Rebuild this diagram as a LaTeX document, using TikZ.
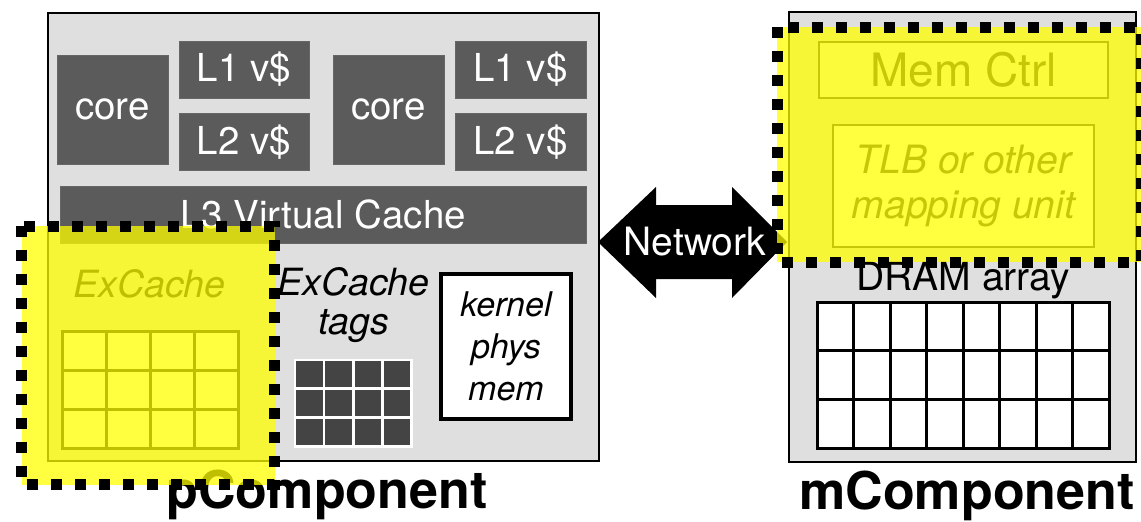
\documentclass[tikz,border=0pt]{standalone}
\usepackage{fontspec}
\setmainfont{TeX Gyre Heros}
\usetikzlibrary{positioning}
\definecolor{chipgray}{HTML}{DFDFDF}
\definecolor{blockgray}{HTML}{5B5B5B}
\definecolor{taggray}{HTML}{444444}
\definecolor{hilite}{HTML}{FFFF00}
\definecolor{softink}{HTML}{202020}

\begin{document}
\begin{tikzpicture}[x=1pt,y=-1pt,
  chip/.style={draw,line width=2pt,fill=chipgray,inner sep=0pt},
  block/.style={fill=blockgray,draw=gray!80!black,line width=0.5pt,text=white,inner sep=0pt,
    font=\fontsize{38.5}{42}\selectfont},
  cell/.style={draw,line width=3pt,fill=white},
  lbl/.style={inner sep=0pt,font=\fontsize{39}{42}\selectfont},
  itlbl/.style={inner sep=0pt,font=\fontsize{37.5}{40}\selectfont\itshape},
  hl/.style={fill=hilite,fill opacity=0.75},
  hlborder/.style={draw,line width=11pt,dash pattern=on 11pt off 13pt},
  title/.style={inner sep=0pt,anchor=base,font=\fontsize{52}{56}\selectfont\bfseries}
]
\useasboundingbox (0,0) rectangle (1141,522);

% pComponent
\node[chip,minimum width=551pt,minimum height=448pt] (pchip) at (323.5,237) {};
\node[block,minimum width=111pt,minimum height=109pt] (core1) at (112.5,109.5) {core};
\node[block,minimum width=130pt,minimum height=57pt] (l1a) at (244,69.5) {L1 v\$};
\node[block,minimum width=130pt,minimum height=57pt,below=15pt of l1a] (l2a) {L2 v\$};
\node[block,minimum width=111pt,minimum height=109pt] (core2) at (388.5,109.5) {core};
\node[block,minimum width=131pt,minimum height=57pt] (l1b) at (520.5,69.5) {L1 v\$};
\node[block,minimum width=131pt,minimum height=57pt,below=15pt of l1b] (l2b) {L2 v\$};
\node[block,minimum width=526pt,minimum height=57pt] (l3) at (323,214.5) {L3 Virtual Cache};

% ExCache
\node[itlbl,anchor=base] (exc) at (149.5,297) {ExCache};
\foreach \c in {0,...,3}
  \foreach \r in {0,...,2}
    \draw[cell] ({62+44*\c},{331+39*\r}) rectangle +(44,39);

% tags
\node[itlbl,anchor=base] (tagsa) at (353.5,295) {ExCache};
\node[itlbl,anchor=base] (tagsb) at (353.5,334) {tags};
\fill[white] (294,359) rectangle (413,448);
\foreach \c in {0,...,3}
  \foreach \r in {0,...,2}
    \fill[taggray] ({296+29.25*\c},{361+29*\r}) rectangle +(26.5,26);

\node[draw,line width=4pt,fill=white,minimum width=130pt,minimum height=145pt,inner sep=0pt,
  align=center,font=\fontsize{34}{42}\selectfont\itshape] (kmem) at (506,346.5) {kernel\\phys\\mem};

% network
\fill[black] (598,242) -- (656,187) -- (656,205) -- (732,205) -- (732,187) -- (787,242)
  -- (732,298) -- (732,279) -- (656,279) -- (656,298) -- cycle;
\node[lbl,text=white] (net) at (695,242) {Network};

% mComponent
\node[chip,minimum width=347pt,minimum height=450pt] (mchip) at (962.5,237) {};
\node[draw=softink,line width=2pt,fill=chipgray!40,text=softink,minimum width=289pt,minimum height=56pt,
  inner sep=0pt,font=\fontsize{46}{48}\selectfont] (memctrl) at (963.5,70) {Mem Ctrl};
\node[draw=softink,line width=2pt,fill=white,text=softink,minimum width=261pt,minimum height=122pt,
  inner sep=0pt,align=center,font=\fontsize{39}{45}\selectfont\itshape] (tlb) at (963.5,186) {TLB or other\\mapping unit};
\node[lbl,anchor=base] (dram) at (963,290) {DRAM array};
\foreach \c in {0,...,7}
  \foreach \r in {0,...,2}
    \draw[cell] ({817+36.5*\c},{302+48.667*\r}) rectangle +(36.5,48.667);

\node[title] (plabel) at (327,508) {pComponent};
\node[title] (mlabel) at (967,509) {mComponent};

% highlights
\fill[hl] (22,226) rectangle (275,485);
\fill[hl] (777,27) rectangle (1145,262);
\draw[hlborder] (21,226) rectangle (274,484);
\draw[hlborder] (777,27) rectangle (1141,262);
\end{tikzpicture}
\end{document}
